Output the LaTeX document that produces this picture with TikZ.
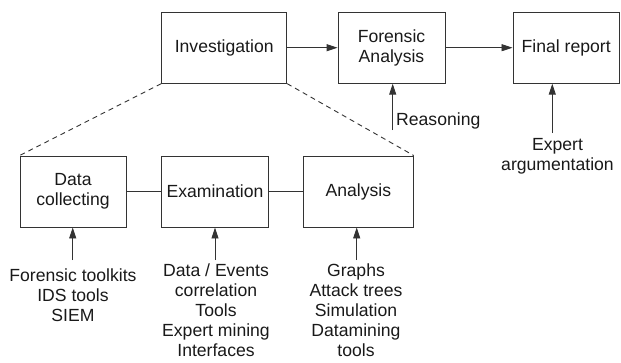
\documentclass[tikz,border=0pt]{standalone}
\usepackage{fontspec}
\setmainfont{Liberation Sans}
\usetikzlibrary{arrows.meta}
\begin{document}
\begin{tikzpicture}[x=1pt,y=-1pt,
  every node/.style={font=\fontsize{17.6}{20}\selectfont, text=black!90},
  box/.style={draw=black!80, line width=0.9pt, minimum height=71pt, inner sep=0pt, align=center},
  lbl/.style={inner sep=0pt, align=center, anchor=base},
  conn/.style={draw=black!80, line width=0.9pt},
  arr/.style={conn, -{Triangle[length=11pt,width=7pt]}},
  dashline/.style={conn, dash pattern=on 5pt off 4pt}]
\useasboundingbox (0,0) rectangle (621,362);
% top row
\node[box, minimum width=125pt] (inv) at (224.2,47.7) {Investigation};
\node[box, minimum width=107pt] (fa) at (391.5,47.7) {Forensic\\Analysis};
\node[box, minimum width=106.5pt] (fr) at (566.2,47.7) {Final report};
% bottom row
\node[box, minimum width=106pt] (dc) at (73,191.5) {Data\\collecting};
\node[box, minimum width=106.6pt] (ex) at (215,191.5) {Examination};
\node[box, minimum width=110pt] (an) at (358.3,191.5) {Analysis};
% labels (anchor base = baseline of last line)
\node[inner sep=0pt, anchor=base west] (reas) at (396,125) {Reasoning};
\node[lbl] (expt) at (557.5,170) {Expert\\argumentation};
\node[lbl] (dct) at (73,321.7) {Forensic toolkits\\IDS tools\\SIEM};
\node[lbl] (ext) at (216,356.7) {Data / Events\\correlation\\Tools\\Expert mining\\Interfaces};
\node[lbl] (ant) at (356,356.7) {Graphs\\Attack trees\\Simulation\\Datamining\\tools};
% arrow start points
\coordinate (reasS) at (392.7,130);
\coordinate (exptS) at (552.3,133);
\coordinate (dcS) at (72.7,260);
\coordinate (exS) at (215,260);
\coordinate (anS) at (356.7,260);
% connectors
\draw[arr] (inv) -- (fa);
\draw[arr] (fa) -- (fr);
\draw[arr] (reasS) -- (reasS |- fa.south);
\draw[arr] (exptS) -- (exptS |- fr.south);
\draw[arr] (dcS) -- (dcS |- dc.south);
\draw[arr] (exS) -- (exS |- ex.south);
\draw[arr] (anS) -- (anS |- an.south);
\draw[conn] (dc) -- (ex);
\draw[conn] (ex) -- (an);
\draw[dashline] (inv.south west) -- (dc.north west);
\draw[dashline] (inv.south east) -- (an.north east);
\end{tikzpicture}
\end{document}
